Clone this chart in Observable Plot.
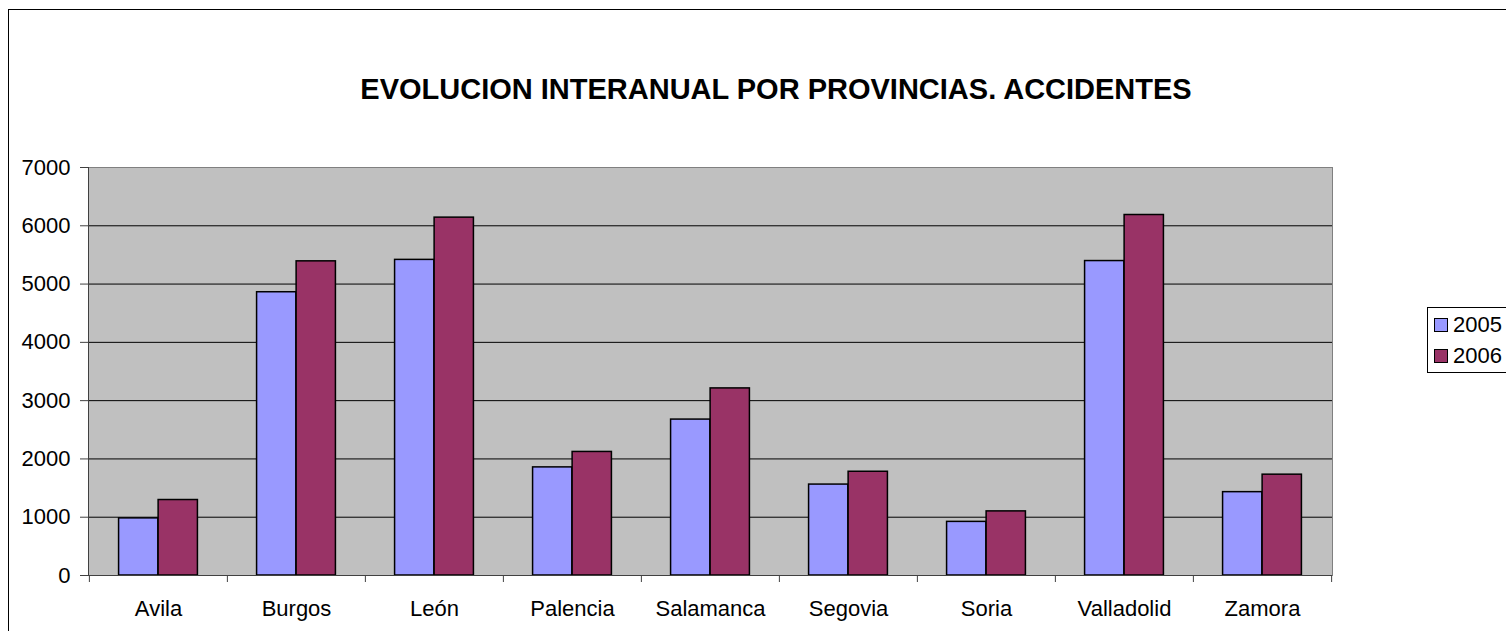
<!DOCTYPE html>
<html>
<head>
<meta charset="utf-8">
<script src="https://cdn.jsdelivr.net/npm/d3@7"></script>
<script src="https://cdn.jsdelivr.net/npm/@observablehq/plot@0.6"></script>
<style>
  body { margin: 0; background: #fff; font-family: "Liberation Sans", Arial, sans-serif; overflow: hidden; }
  #page { position: relative; width: 1506px; height: 631px; overflow: hidden; }
  #frame { position: absolute; left: 8px; top: 9px; width: 1600px; height: 700px; border: 1px solid #000; box-sizing: border-box; }
  #title { position: absolute; left: 0; top: 75px; width: 1552px; text-align: center; font-size: 29px; line-height: 29px; font-weight: bold; color: #000; white-space: nowrap; }
  #chart { position: absolute; left: 0; top: 140px; }
  #legend { position: absolute; left: 1427px; top: 307px; width: 200px; height: 66px; border: 1px solid #000; box-sizing: border-box; background: #fff; }
  .item { position: absolute; left: 6px; height: 14px; display: flex; align-items: center; font-size: 22px; color: #000; white-space: nowrap; }
  .sw { display: inline-block; width: 14px; height: 14px; border: 1px solid #000; box-sizing: border-box; margin-right: 5px; }
</style>
</head>
<body>
<div id="page">
  <div id="frame"></div>
  <div id="title">EVOLUCION INTERANUAL POR PROVINCIAS. ACCIDENTES</div>
  <div id="chart"></div>
  <div id="legend"></div>
</div>
<script>
const provinces = ["Avila", "Burgos", "León", "Palencia", "Salamanca", "Segovia", "Soria", "Valladolid", "Zamora"];
const years = ["2005", "2006"];
const values2005 = [980, 4860, 5415, 1855, 2675, 1560, 920, 5395, 1430];
const values2006 = [1295, 5390, 6140, 2120, 3210, 1780, 1100, 6185, 1730];
const yTicks = [0, 1000, 2000, 3000, 4000, 5000, 6000, 7000];
const seriesColors = ["#9999FF", "#993366"];

const data2005 = provinces.map((p, i) => ({province: p, year: years[0], value: values2005[i]}));
const data2006 = provinces.map((p, i) => ({province: p, year: years[1], value: values2006[i]}));

const W = 1506, H = 491, mL = 88, mR = 174, mT = 27, mB = 56;
const bw = (W - mL - mR) / provinces.length;
const plotH = H - mT - mB;
const gap = 0.214 * bw;

const chart = Plot.plot({
  width: W,
  height: H,
  marginLeft: mL,
  marginRight: mR,
  marginTop: mT,
  marginBottom: mB,
  style: {fontFamily: "'Liberation Sans', Arial, sans-serif", color: "#000", background: "transparent", overflow: "visible"},
  x: {type: "band", domain: provinces, padding: 0, axis: null},
  y: {domain: [0, 7000], axis: null},
  color: {domain: years, range: seriesColors},
  marks: [
    Plot.frame({fill: "#C0C0C0"}),
    Plot.gridY(yTicks.filter(v => v > 0 && v < 7000), {stroke: "#000", strokeOpacity: 1}),
    Plot.frame({stroke: "#808080"}),
    Plot.barY(data2005, {x: "province", y: "value", fill: "year", stroke: "#000", strokeWidth: 1.5, insetLeft: gap, insetRight: bw / 2}),
    Plot.barY(data2006, {x: "province", y: "value", fill: "year", stroke: "#000", strokeWidth: 1.5, insetLeft: bw / 2, insetRight: gap}),
    Plot.ruleY([0], {stroke: "#404040"}),
    Plot.frame({anchor: "left", stroke: "#404040"}),
    Plot.ruleX(provinces, {x: d => d, dx: -bw / 2, insetTop: plotH, insetBottom: -7, stroke: "#404040"}),
    Plot.ruleX([provinces[provinces.length - 1]], {x: d => d, dx: bw / 2, insetTop: plotH, insetBottom: -7, stroke: "#404040"}),
    Plot.axisY(yTicks, {tickSize: 8, tickPadding: 10, fontSize: 22, tickFormat: d => String(d), stroke: "#404040", label: null}),
    Plot.axisX({tickSize: 0, tickPadding: 25, fontSize: 22, label: null})
  ]
});
document.getElementById("chart").appendChild(chart);

const legend = document.getElementById("legend");
years.forEach((y, i) => {
  const item = document.createElement("div");
  item.className = "item";
  item.style.top = (10 + i * 31) + "px";
  const sw = document.createElement("span");
  sw.className = "sw";
  sw.style.background = seriesColors[i];
  const t = document.createElement("span");
  t.textContent = y;
  item.appendChild(sw);
  item.appendChild(t);
  legend.appendChild(item);
});
</script>
</body>
</html>
